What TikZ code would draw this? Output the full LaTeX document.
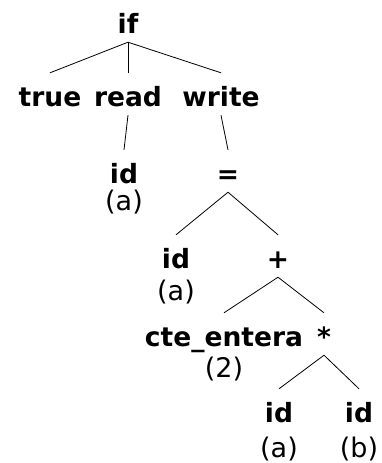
\documentclass[tikz,border=0pt]{standalone}
\usepackage{fontspec}
\setmainfont{DejaVu Sans}
\usepackage{tikz}
\usetikzlibrary{positioning}

\tikzset{
    tok/.style={font=\fontsize{26.5}{30}\selectfont\bfseries, anchor=base, inner sep=0pt, text height=33pt, text depth=9pt},
    lex/.style={font=\fontsize{27}{30}\selectfont, anchor=base, inner sep=0pt},
    branch/.style={line width=0.8pt}
}

\begin{document}
\begin{tikzpicture}[x=1pt, y=-1pt]
        \useasboundingbox (0,0) rectangle (382,463);

        \node[tok] (if) at (128,33) {if};
        \node[tok] (true) at (50,106) {true};
        \node[tok] (read) at (128,106) {read};
        \node[tok] (write) at (221,106) {write};

        \node[tok] (idA) at (124,183) {id};
        \node[lex] (idAlex) at (124,210) {(a)};
        \node[tok] (assign) at (228,183) {=};

        \node[tok] (idB) at (176,268) {id};
        \node[lex] (idBlex) at (176,300) {(a)};
        \node[tok] (plus) at (278,268) {+};

        \node[tok] (cte) at (224,346) {cte\_entera};
        \node[lex] (ctelex) at (224,377) {(2)};
        \node[tok] (times) at (324,346) {*};

        \node[tok] (idC) at (279,422) {id};
        \node[lex] (idClex) at (279,457) {(a)};
        \node[tok] (idD) at (359,422) {id};
        \node[lex] (idDlex) at (359,457) {(b)};

        \foreach \a/\b in {
                if/true,
                if/read,
                if/write,
                read/idA,
                write/assign,
                assign/idB,
                assign/plus,
                plus/cte,
                plus/times,
                times/idC,
                times/idD}{
                \draw[branch] (\a.south) -- (\b.north);
            }

    \end{tikzpicture}
\end{document}
